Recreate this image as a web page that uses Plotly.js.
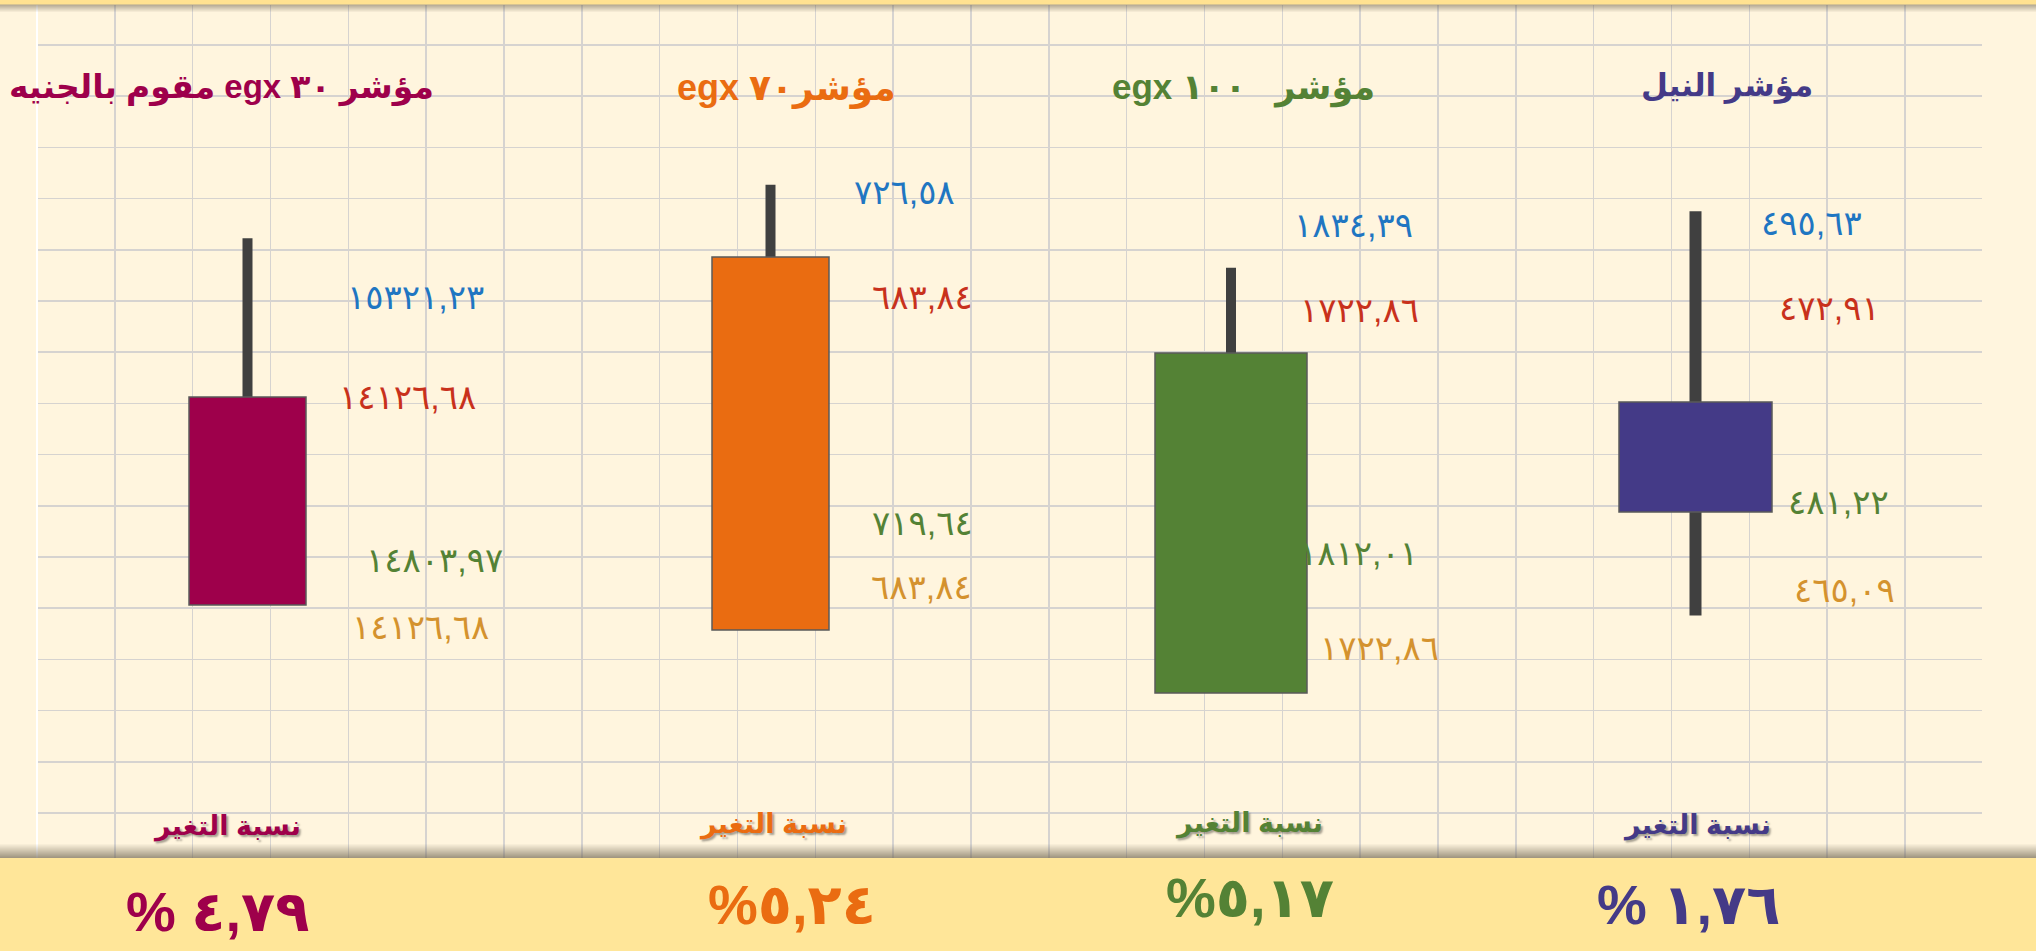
<!DOCTYPE html>
<html>
<head>
<meta charset="utf-8">
<script src="https://cdn.plot.ly/plotly-3.0.1.min.js"></script>
<style>
  html, body { margin: 0; padding: 0; background: #FFF5DE; overflow: hidden; }
  #chart { width: 2036px; height: 951px; }
</style>
</head>
<body>
<div id="chart"></div>
<script>
// ---------------- DATA ----------------
const categories = ["EGX30", "EGX70", "EGX100", "NILE"];
const indexTitles = ["مؤشر ٣٠ egx مقوم بالجنيه", "مؤشر٧٠ egx", "مؤشر\u00A0\u00A0\u00A0١٠٠ egx", "مؤشر النيل"];
const highs  = [15321.23, 726.58, 1834.39, 495.63];
const opens  = [14126.68, 683.84, 1722.86, 472.91];
const closes = [14803.97, 719.64, 1812.01, 481.22];
const lows   = [14126.68, 683.84, 1722.86, 465.09];
const changes = [4.79, 5.24, 5.17, 1.76];
const changeCaption = "نسبة التغير";

// ---------------- STYLE / LAYOUT ----------------
const W = 2036, H = 951;
const bodyColors  = ["#9E004B", "#EA6C11", "#548235", "#443A87"];
const titleColors = ["#9E004B", "#EA6C11", "#548235", "#443A87"];
const labelColors = ["#1F76C2", "#C8311C", "#548235", "#D4922E"]; // high, open, close, low
const wickColor = "#404040";
const outline = "#5A5A5A";
const centers = [247.5, 770.5, 1231, 1695.5];
const halfDomain = 200;
const bodyPx = [117, 117, 152, 153];
const wickPx = [10, 10, 10, 12];
const yRanges = [[13000.1, 16096.7], [653.03, 744.31], [1655.21, 1904.57], [439.75, 511.59]];
const titlePos = [[221, 88], [786, 88], [1243, 88], [1727, 86]];
const titleSizes = [33, 36, 35, 31];
const labelPos = [
  [[415.5, 297], [407.5, 397], [434, 560], [420, 627]],
  [[904, 192], [922, 297], [922, 523], [921, 587]],
  [[1353.5, 225], [1359.5, 310], [1358, 553], [1379.5, 648]],
  [[1811, 223], [1829, 308], [1838.5, 502], [1844, 590]]
];
const captionPos = [[227, 826], [773, 824], [1249, 823], [1697, 825]];
const pctPos = [[217, 911], [792, 904], [1250, 897], [1688, 904]];
const pctSep = [" ", "", "", " "];

const AR_FONT = "Liberation Sans, DejaVu Sans, sans-serif";
const arDigits = "٠١٢٣٤٥٦٧٨٩";
function toArabic(str) { return str.replace(/[0-9]/g, d => arDigits[+d]); }
function fmt(v) { return toArabic(v.toFixed(2).replace(".", ",")); }
const px = x => x / W;
const py = y => 1 - y / H;

// ---------------- TRACES ----------------
const traces = [];
// grid subplot (xy) drawn first
traces.push({ x: [], y: [], type: "scatter", xaxis: "x", yaxis: "y", hoverinfo: "skip", showlegend: false });

for (let i = 0; i < categories.length; i++) {
  const ax = i + 2;
  // wick: low -> high
  traces.push({
    type: "bar", x: [categories[i]], y: [highs[i] - lows[i]], base: [lows[i]],
    width: wickPx[i] / (2 * halfDomain),
    marker: { color: wickColor, line: { width: 0 } },
    xaxis: "x" + ax, yaxis: "y" + ax, hoverinfo: "skip", showlegend: false
  });
  // body: open -> close
  traces.push({
    type: "bar", x: [categories[i]], y: [closes[i] - opens[i]], base: [opens[i]],
    width: bodyPx[i] / (2 * halfDomain),
    marker: { color: bodyColors[i], line: { width: 1.5, color: outline } },
    xaxis: "x" + ax, yaxis: "y" + ax, hoverinfo: "skip", showlegend: false
  });
}

// ---------------- LAYOUT ----------------
const layout = {
  width: W, height: H,
  margin: { l: 0, r: 0, t: 0, b: 0, pad: 0 },
  paper_bgcolor: "#FFF5DE",
  plot_bgcolor: "rgba(0,0,0,0)",
  barmode: "overlay",
  showlegend: false,
  xaxis: {
    domain: [37 / W, 1982 / W], range: [0, 24.99], dtick: 1, tick0: 0,
    showgrid: true, gridcolor: "#D6D3D0", gridwidth: 1.5,
    zeroline: true, zerolinecolor: "#FFFFFF", zerolinewidth: 2.5,
    showticklabels: false, ticks: "", showline: false, fixedrange: true, anchor: "y"
  },
  yaxis: {
    domain: [(H - 858) / H, (H - 5) / H], range: [0.121, 16.78], dtick: 1, tick0: 0,
    showgrid: true, gridcolor: "#D6D3D0", gridwidth: 1.5,
    zeroline: false, showticklabels: false, ticks: "", showline: false, fixedrange: true, anchor: "x"
  },
  shapes: [],
  annotations: []
};

for (let i = 0; i < categories.length; i++) {
  const ax = i + 2;
  layout["xaxis" + ax] = {
    type: "category", domain: [px(centers[i] - halfDomain), px(centers[i] + halfDomain)],
    range: [-0.5, 0.5], visible: false, fixedrange: true, anchor: "y" + ax
  };
  layout["yaxis" + ax] = {
    domain: [0, 1], range: yRanges[i], visible: false, fixedrange: true, anchor: "x" + ax
  };
}

// bands and shadows
const shp = (y0, y1, color) => ({ type: "rect", xref: "paper", yref: "paper", x0: 0, x1: 1,
  y0: py(y1), y1: py(y0), fillcolor: color, line: { width: 0 }, layer: "above" });
// top shadow
for (let k = 0; k < 8; k++) {
  layout.shapes.push(shp(4 + k, 5 + k, `rgba(110,100,80,${(0.55 * (1 - k / 8)).toFixed(3)})`));
}
layout.shapes.push(shp(0, 4.5, "#FFE291"));
// bottom shadow
for (let k = 0; k < 14; k++) {
  layout.shapes.push(shp(844 + k, 845 + k, `rgba(110,100,80,${(0.65 * (k + 1) / 14).toFixed(3)})`));
}
layout.shapes.push(shp(858, 951, "#FFE699"));

// annotations
const ann = (text, x, y, size, color, bold, extra) => Object.assign({
  text: bold ? "<b>" + text + "</b>" : text,
  xref: "paper", yref: "paper", x: px(x), y: py(y), xanchor: "center", yanchor: "middle",
  showarrow: false, font: { family: AR_FONT, size: size, color: color }
}, extra || {});

for (let i = 0; i < categories.length; i++) {
  layout.annotations.push(ann("\u202B" + indexTitles[i] + "\u202C", titlePos[i][0], titlePos[i][1], titleSizes[i], titleColors[i], true));
  const vals = [highs[i], opens[i], closes[i], lows[i]];
  for (let j = 0; j < 4; j++) {
    layout.annotations.push(ann(fmt(vals[j]), labelPos[i][j][0], labelPos[i][j][1], 34, labelColors[j], false));
  }
  const cap = ann(changeCaption, captionPos[i][0], captionPos[i][1], 27, titleColors[i], true);
  cap.font.shadow = "2px 2px 2px rgba(0,0,0,0.35)";
  layout.annotations.push(cap);
  layout.annotations.push(ann("%" + pctSep[i] + fmt(changes[i]), pctPos[i][0], pctPos[i][1], 56, titleColors[i], true));
}

Plotly.newPlot("chart", traces, layout, { staticPlot: true, displayModeBar: false });
</script>
</body>
</html>
